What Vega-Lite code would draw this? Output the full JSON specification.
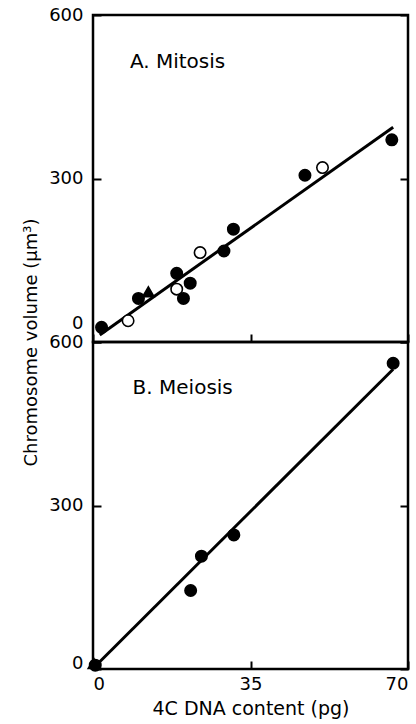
{
  "$schema": "https://vega.github.io/schema/vega-lite/v6.json",
  "autosize": {"type": "none"},
  "padding": {"left": 93, "top": 15, "right": 323, "bottom": 709},
  "bounds": "flush",
  "spacing": 0,
  "background": "white",
  "datasets": {
    "points": [
      {"panel": "A", "x": 1.9, "y": 27, "type": "filled"},
      {"panel": "A", "x": 10.1, "y": 80, "type": "filled"},
      {"panel": "A", "x": 12.3, "y": 92, "type": "triangle"},
      {"panel": "A", "x": 18.6, "y": 126, "type": "filled"},
      {"panel": "A", "x": 21.6, "y": 108, "type": "filled"},
      {"panel": "A", "x": 20.1, "y": 80, "type": "filled"},
      {"panel": "A", "x": 29.1, "y": 167, "type": "filled"},
      {"panel": "A", "x": 31.2, "y": 207, "type": "filled"},
      {"panel": "A", "x": 47.1, "y": 306, "type": "filled"},
      {"panel": "A", "x": 66.4, "y": 371, "type": "filled"},
      {"panel": "A", "x": 7.8, "y": 39, "type": "open"},
      {"panel": "A", "x": 18.6, "y": 97, "type": "open"},
      {"panel": "A", "x": 23.8, "y": 164, "type": "open"},
      {"panel": "A", "x": 51.0, "y": 320, "type": "open"},
      {"panel": "B", "x": 0.5, "y": 7, "type": "filled"},
      {"panel": "B", "x": 0.2, "y": 10, "type": "triangle"},
      {"panel": "B", "x": 21.7, "y": 144, "type": "filled"},
      {"panel": "B", "x": 24.1, "y": 207, "type": "filled"},
      {"panel": "B", "x": 31.3, "y": 246, "type": "filled"},
      {"panel": "B", "x": 66.7, "y": 561, "type": "filled"}
    ],
    "lines": [
      {"panel": "A", "x": 1.5, "y": 13},
      {"panel": "A", "x": 66.7, "y": 394},
      {"panel": "B", "x": 0.5, "y": 5},
      {"panel": "B", "x": 66.7, "y": 550}
    ],
    "labels": [
      {"panel": "A", "label": "A.  Mitosis", "x": 8.2, "y": 514},
      {"panel": "B", "label": "B.  Meiosis", "x": 8.8, "y": 516}
    ]
  },
  "vconcat": [
    {
      "width": 315,
      "height": 327,
      "layer": [
        {
          "data": {"name": "lines"},
          "transform": [{"filter": "datum.panel === 'A'"}],
          "mark": {"type": "line", "color": "black", "strokeWidth": 3},
          "encoding": {
            "x": {"field": "x", "type": "quantitative", "scale": {"domain": [0, 70], "nice": false, "zero": false},
                  "axis": {"values": [0, 35, 70], "labels": false, "title": null}},
            "y": {"field": "y", "type": "quantitative", "scale": {"domain": [0, 600], "nice": false},
                  "axis": {"orient": "left", "values": [0, 300, 600], "title": "Chromosome volume (μm³)",
                           "titleX": -62, "titleY": 327, "titleBaseline": "middle",
                           "labelOffset": {"condition": {"test": "datum.value === 0", "value": -19}, "value": 0}}}
          }
        },
        {
          "data": {"name": "points"},
          "transform": [{"filter": "datum.panel === 'A'"}],
          "mark": {"type": "point", "filled": true, "stroke": "black", "strokeWidth": 1.6, "size": 130, "opacity": 1},
          "encoding": {
            "x": {"field": "x", "type": "quantitative"},
            "y": {"field": "y", "type": "quantitative",
                  "axis": {"orient": "right", "values": [0, 300, 600], "labels": false, "title": null}},
            "shape": {"field": "type", "type": "nominal", "scale": {"domain": ["filled", "open", "triangle"], "range": ["circle", "circle", "triangle-up"]}, "legend": null},
            "fill": {"field": "type", "type": "nominal", "scale": {"domain": ["filled", "open", "triangle"], "range": ["black", "white", "black"]}, "legend": null}
          }
        },
        {
          "data": {"name": "labels"},
          "transform": [{"filter": "datum.panel === 'A'"}],
          "mark": {"type": "text", "align": "left", "baseline": "middle", "fontSize": 20, "font": "DejaVu Sans", "color": "black"},
          "encoding": {
            "x": {"field": "x", "type": "quantitative"},
            "y": {"field": "y", "type": "quantitative", "axis": null},
            "text": {"field": "label"}
          }
        }
      ],
      "resolve": {"axis": {"y": "independent"}}
    },
    {
      "width": 315,
      "height": 327,
      "layer": [
        {
          "data": {"name": "lines"},
          "transform": [{"filter": "datum.panel === 'B'"}],
          "mark": {"type": "line", "color": "black", "strokeWidth": 3},
          "encoding": {
            "x": {"field": "x", "type": "quantitative", "scale": {"domain": [0, 70], "nice": false, "zero": false},
                  "axis": {"values": [0, 35, 70], "title": "4C DNA content (pg)", "titleFontSize": 19, "titlePadding": 6}},
            "y": {"field": "y", "type": "quantitative", "scale": {"domain": [0, 600], "nice": false},
                  "axis": {"orient": "left", "values": [0, 300, 600], "title": null,
                           "labelOffset": {"condition": {"test": "datum.value === 0", "value": -6}, "value": 0}}}
          }
        },
        {
          "data": {"name": "points"},
          "transform": [{"filter": "datum.panel === 'B'"}],
          "mark": {"type": "point", "filled": true, "stroke": "black", "strokeWidth": 1.6, "size": 130, "opacity": 1},
          "encoding": {
            "x": {"field": "x", "type": "quantitative"},
            "y": {"field": "y", "type": "quantitative",
                  "axis": {"orient": "right", "values": [0, 300, 600], "labels": false, "title": null}},
            "shape": {"field": "type", "type": "nominal", "scale": {"domain": ["filled", "open", "triangle"], "range": ["circle", "circle", "triangle-up"]}, "legend": null},
            "fill": {"field": "type", "type": "nominal", "scale": {"domain": ["filled", "open", "triangle"], "range": ["black", "white", "black"]}, "legend": null}
          }
        },
        {
          "data": {"name": "labels"},
          "transform": [{"filter": "datum.panel === 'B'"}],
          "mark": {"type": "text", "align": "left", "baseline": "middle", "fontSize": 20, "font": "DejaVu Sans", "color": "black"},
          "encoding": {
            "x": {"field": "x", "type": "quantitative"},
            "y": {"field": "y", "type": "quantitative", "axis": null},
            "text": {"field": "label"}
          }
        }
      ],
      "resolve": {"axis": {"y": "independent"}}
    }
  ],
  "config": {
    "view": {"stroke": "black", "strokeWidth": 2.5},
    "axis": {
      "domain": false,
      "grid": false,
      "tickColor": "black",
      "tickWidth": 2,
      "tickSize": -8,
      "labelFont": "DejaVu Sans",
      "labelFontSize": 18,
      "labelColor": "black",
      "titleFont": "DejaVu Sans",
      "titleFontSize": 18,
      "titleFontWeight": "normal",
      "titleColor": "black"
    },
    "axisX": {"labelPadding": 14},
    "axisY": {"labelPadding": 18}
  }
}
